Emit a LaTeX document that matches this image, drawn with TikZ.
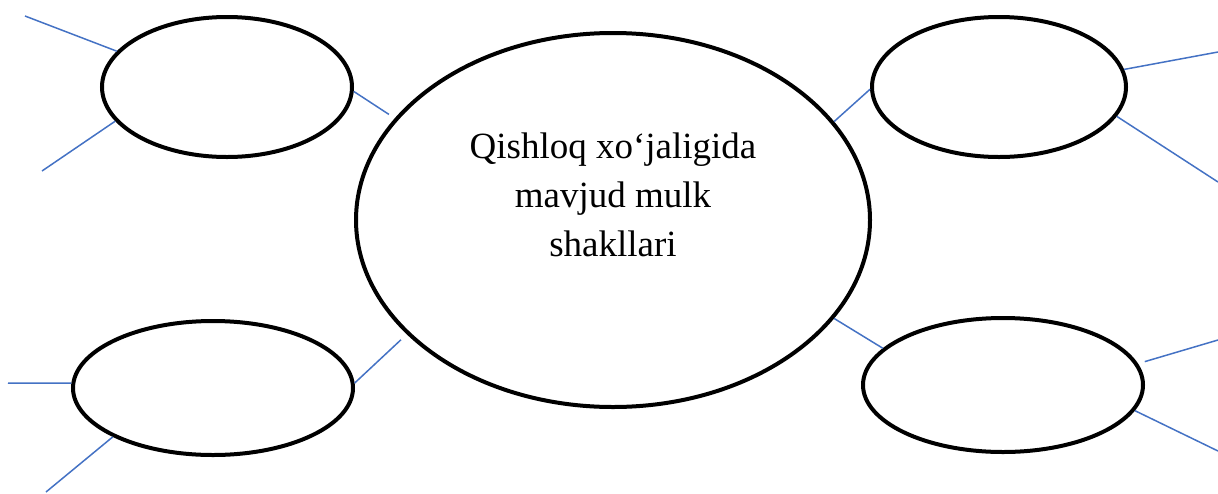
\documentclass[tikz,border=0pt]{standalone}
\usepackage{fontspec}
\setmainfont{Liberation Serif}
\usetikzlibrary{shapes.geometric}
\definecolor{linkblue}{HTML}{4472C4}
\tikzset{
  bubble/.style={draw=black, line width=4pt, ellipse, inner sep=0pt, fill=none},
  link/.style={draw=linkblue, line width=1.5pt},
  caption/.style={font=\fontsize{37}{49}\selectfont, align=center, inner sep=0pt}
}
\begin{document}
\begin{tikzpicture}[x=1pt, y=-1pt]
\useasboundingbox (0,0) rectangle (1218,493);
% ellipses
\node[bubble, minimum width=514pt, minimum height=374pt] (c) at (613,220) {};
\node[bubble, minimum width=250pt, minimum height=140pt] (tl) at (227,87) {};
\node[bubble, minimum width=254pt, minimum height=140pt] (tr) at (999,87) {};
\node[bubble, minimum width=280pt, minimum height=134pt] (bl) at (213,388) {};
\node[bubble, minimum width=280pt, minimum height=134pt] (br) at (1003,385) {};
\node[caption] (ctext) at (613,195) {Qishloq xo‘jaligida\\mavjud mulk\\shakllari};
% free ends
\coordinate (tlA) at (25,16);
\coordinate (tlB) at (42,171);
\coordinate (trA) at (1218,52);
\coordinate (trB) at (1218,182);
\coordinate (blA) at (8,383);
\coordinate (blB) at (46,492);
\coordinate (brA) at (1218,340);
\coordinate (brB) at (1218,451);
% connectors between ellipses
\draw[link, shorten >=7pt] (tl.-2) -- (c.155.6);
\draw[link] (c.24.8) -- (tr.181);
\draw[link, shorten >=8pt] (bl.2.5) -- (c.209.5);
\draw[link] (c.-24.9) -- (br.163);
% outer lines
\draw[link] (tl.162.5) -- (tlA);
\draw[link] (tl.197) -- (tlB);
\draw[link] (tr.8.3) -- (trA);
\draw[link] (tr.-14.1) -- (trB);
\draw[link] (bl.178) -- (blA);
\draw[link] (bl.206.3) -- (blB);
\draw[link, shorten <=7pt] (br.9.3) -- (brA);
\draw[link] (br.-11.4) -- (brB);
\end{tikzpicture}
\end{document}
